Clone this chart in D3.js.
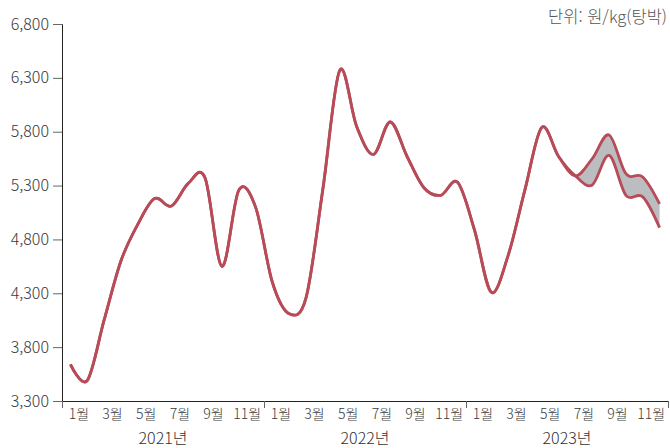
<!DOCTYPE html>
<html lang="ko">
  <head>
    <meta charset="utf-8">
    <title>돼지 도매가격</title>
    <style>
      html, body { margin: 0; padding: 0; background: #fff; }
      body { font-family: "Noto Sans CJK KR", "Noto Sans", sans-serif; }
      svg text { font-family: "Noto Sans CJK KR", "Noto Sans", sans-serif; font-weight: 300; }
      .axis text { fill: #3a3a3a; }
      .axis .domain { stroke: #222; }
      .axis .tick line { stroke: #666; }
    </style>
  </head>
  <body>
    <div id="container"></div>

    <script src="https://cdnjs.cloudflare.com/ajax/libs/d3/7.8.5/d3.min.js"></script>
    <script>
      // 월별 값 (2021년 1월 ~ 2023년 7월 실적)
      var years = ["2021년", "2022년", "2023년"];
      var monthLabels = ["1월", "3월", "5월", "7월", "9월", "11월"];
      var monthOfLabel = [1, 3, 5, 7, 9, 11];
      var actual = [3640, 3490, 4050, 4600, 4940, 5180, 5110, 5320, 5370, 4550, 5255, 5100,
                    4400, 4110, 4260, 5270, 6370, 5850, 5590, 5890, 5570, 5280, 5210, 5330,
                    4890, 4310, 4650, 5260, 5840, 5570, 5390];
      // 2023년 8월 ~ 12월 전망 (상단 / 하단)
      var upperForecast = [5550, 5770, 5410, 5380, 5130];
      var lowerForecast = [5305, 5580, 5210, 5195, 4910];
      var yTicks = [3300, 3800, 4300, 4800, 5300, 5800, 6300, 6800];
      var unitText = "단위: 원/kg(탕박)";

      var w = 670, h = 448;
      var padLeft = 62, padRight = 668, padTop = 24, padBottom = 401;

      var upper = actual.concat(upperForecast);
      var lower = actual.concat(lowerForecast);
      var rows = upper.map(function(d, i) { return {i: i, hi: d, lo: lower[i]}; });

      var nMonths = years.length * 12;
      var xScale = d3.scaleLinear().domain([0, nMonths]).range([padLeft, padRight]);
      var yScale = d3.scaleLinear().domain([3300, 6800]).range([padBottom, padTop]);

      var svg = d3.select("#container").append("svg")
        .attr("width", w)
        .attr("height", h);

      // 전망 범위 음영
      var area = d3.area()
        .curve(d3.curveCardinal)
        .x(function(d) { return xScale(d.i + 0.5); })
        .y0(function(d) { return yScale(d.lo); })
        .y1(function(d) { return yScale(d.hi); });

      svg.append("path")
        .datum(rows)
        .attr("d", area)
        .attr("fill", "#bcbdc1");

      var line = d3.line()
        .curve(d3.curveCardinal)
        .x(function(d) { return xScale(d.i + 0.5); });

      svg.append("path")
        .datum(rows)
        .attr("d", line.y(function(d) { return yScale(d.lo); }))
        .attr("fill", "none")
        .attr("stroke", "#b74b58")
        .attr("stroke-width", 2.8)
        .attr("stroke-linejoin", "round");

      svg.append("path")
        .datum(rows)
        .attr("d", line.y(function(d) { return yScale(d.hi); }))
        .attr("fill", "none")
        .attr("stroke", "#b74b58")
        .attr("stroke-width", 2.8)
        .attr("stroke-linejoin", "round");

      // y축
      var yAxis = d3.axisLeft(yScale)
        .tickValues(yTicks)
        .tickFormat(d3.format(","))
        .tickSize(9)
        .tickPadding(4);

      svg.append("g")
        .attr("class", "axis")
        .attr("transform", "translate(" + padLeft + ",0)")
        .call(yAxis)
        .call(function(g) { g.selectAll("text").style("font-size", "16px"); });

      // x축: 연도 경계 눈금
      var xAxis = d3.axisBottom(xScale)
        .tickValues(d3.range(0, nMonths + 1, 12))
        .tickFormat("")
        .tickSize(7)
        .tickSizeOuter(0);

      svg.append("g")
        .attr("class", "axis")
        .attr("transform", "translate(0," + padBottom + ")")
        .call(xAxis);

      // 월 라벨
      var monthTicks = [];
      years.forEach(function(y, yi) {
        monthOfLabel.forEach(function(m, mi) {
          monthTicks.push({pos: yi * 12 + m, label: monthLabels[mi]});
        });
      });

      svg.append("g")
        .selectAll("text")
        .data(monthTicks)
        .enter()
        .append("text")
        .attr("x", function(d) { return xScale(d.pos); })
        .attr("y", padBottom + 18)
        .attr("text-anchor", "middle")
        .style("font-size", "14px")
        .style("fill", "#3a3a3a")
        .text(function(d) { return d.label; });

      // 연도 라벨
      svg.append("g")
        .selectAll("text")
        .data(years)
        .enter()
        .append("text")
        .attr("x", function(d, i) { return xScale(i * 12 + 6); })
        .attr("y", padBottom + 43)
        .attr("text-anchor", "middle")
        .style("font-size", "16px")
        .style("fill", "#333")
        .text(function(d) { return d; });

      // 단위
      svg.append("text")
        .attr("x", 667)
        .attr("y", 23)
        .attr("text-anchor", "end")
        .style("font-size", "16.5px")
        .style("fill", "#555")
        .text(unitText);
    </script>
  </body>
</html>
